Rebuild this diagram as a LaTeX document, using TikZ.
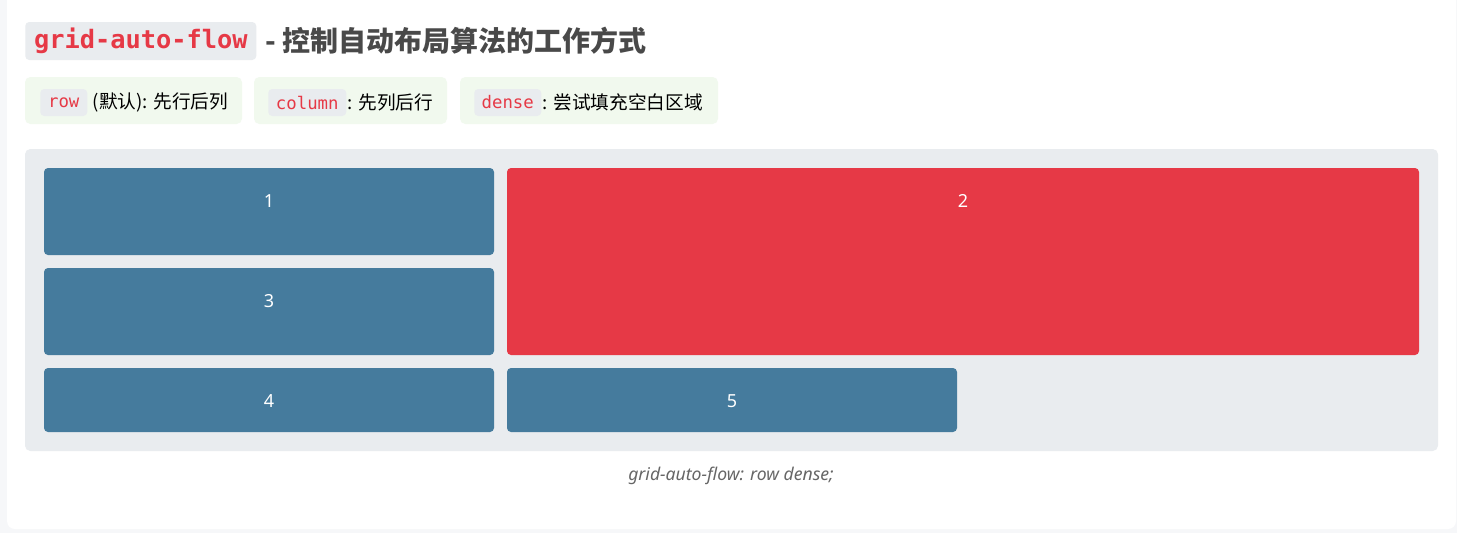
\documentclass[tikz,border=0pt]{standalone}
\usepackage{fontspec}
\setmainfont{Noto Sans}
\setmonofont{DejaVu Sans Mono}
\newfontfamily\cjk{Noto Sans CJK SC}
\usetikzlibrary{positioning}

\definecolor{pagebg}{RGB}{246,247,249}
\definecolor{codebg}{RGB}{233,236,239}
\definecolor{codered}{RGB}{230,57,70}
\definecolor{pillbg}{RGB}{241,249,238}
\definecolor{itemblue}{RGB}{69,123,157}
\definecolor{titlegray}{RGB}{73,73,73}
\definecolor{captiongray}{RGB}{102,102,102}

\tikzset{
  codechip/.style={fill=codebg, rounded corners=3pt, inner xsep=0pt, inner ysep=0pt,
    minimum height=20.25pt, text=codered, font=\ttfamily\fontsize{13}{15}\selectfont},
  pilltext/.style={inner sep=0pt, anchor=west, font=\cjk\fontsize{14}{16}\selectfont},
  itemlabel/.style={text=white, font=\fontsize{13.5}{16}\selectfont},
}

\begin{document}
\begin{tikzpicture}[x=0.75pt,y=-0.75pt]
\useasboundingbox (0,0) rectangle (1457,533);
% page and card
\fill[pagebg] (0,0) rectangle (1457,533);
\fill[white, rounded corners=6pt] (7,-10) rectangle (1456,529);

% title
\node[codechip, anchor=west, minimum width=173.25pt, minimum height=28.5pt,
  font=\ttfamily\bfseries\fontsize{19}{22}\selectfont] (flowcode) at (25,41) {grid-auto-flow};
\node[inner sep=0pt, right=6.75pt of flowcode, text=titlegray,
  font=\cjk\bfseries\fontsize{21}{25}\selectfont] (flowtitle) {- 控制自动布局算法的工作方式};

% value pills
\fill[pillbg, rounded corners=4pt] (25,77) rectangle (242,124);
\fill[pillbg, rounded corners=4pt] (254,77) rectangle (447,124);
\fill[pillbg, rounded corners=4pt] (460,77) rectangle (718,124);
\node[codechip, anchor=west, minimum width=35.25pt] (rowcode) at (40,102.5) {row};
\node[pilltext, right=3.75pt of rowcode] (rowtext) {(默认): 先行后列};
\node[codechip, anchor=west, minimum width=58.5pt] (columncode) at (268,102.5) {column};
\node[pilltext, right=0.75pt of columncode] (columntext) {: 先列后行};
\node[codechip, anchor=west, minimum width=50.25pt] (densecode) at (474,102.5) {dense};
\node[pilltext, right=0.75pt of densecode] (densetext) {: 尝试填充空白区域};

% grid container
\fill[codebg, rounded corners=4pt] (25,149) rectangle (1438,451);
\fill[itemblue, rounded corners=3pt] (44,168) rectangle (494,255);
\fill[codered, rounded corners=3pt] (507,168) rectangle (1419,355);
\fill[itemblue, rounded corners=3pt] (44,268) rectangle (494,355);
\fill[itemblue, rounded corners=3pt] (44,368) rectangle (494,432);
\fill[itemblue, rounded corners=3pt] (507,368) rectangle (957,432);
\node[itemlabel] (item1) at (269,201) {1};
\node[itemlabel] (item2) at (963,201) {2};
\node[itemlabel] (item3) at (269,301) {3};
\node[itemlabel] (item4) at (269,401) {4};
\node[itemlabel] (item5) at (732,401) {5};

% caption
\node[text=captiongray, font=\itshape\fontsize{13.2}{15}\selectfont] (flowcaption) at (731,476) {grid-auto-flow: row dense;};
\end{tikzpicture}
\end{document}
